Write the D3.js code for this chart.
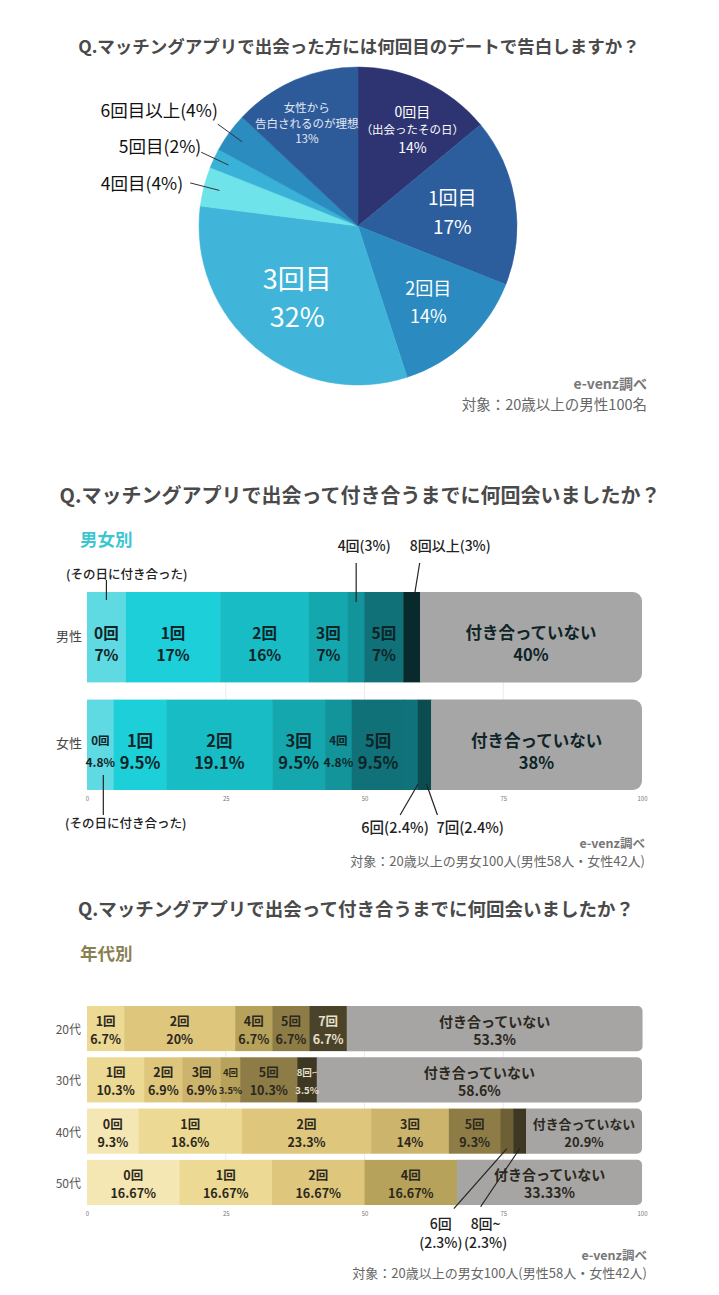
<!DOCTYPE html>
<html>
<head>
<meta charset="utf-8">
<script src="https://cdn.jsdelivr.net/npm/d3@7"></script>
<style>
  body { margin: 0; background: #fff; }
  text { font-family: "Noto Sans CJK JP", "Noto Sans", sans-serif; }
</style>
</head>
<body>
<svg id="chart" width="719" height="1295"></svg>
<script>
// ---- data: pie (男性の告白タイミング) ----
const pieLabels = ["0回目\n（出会ったその日）", "1回目", "2回目", "3回目", "4回目", "5回目", "6回目以上", "女性から\n告白されるのが理想"];
const pieValues = [14, 17, 14, 32, 4, 2, 4, 13];
const pieColors = ["#2e3471", "#2c5d9d", "#2b8bc0", "#41b5d9", "#6fe3ea", "#3ab2d7", "#2b8cbf", "#2d5b9a"];

// ---- data: 男女別 ----
const genderRows = ["男性", "女性"];
const maleKeys = ["0回", "1回", "2回", "3回", "4回", "5回", "8回以上", "付き合っていない"];
const maleValues = [7, 17, 16, 7, 3, 7, 3, 40];
const femaleKeys = ["0回", "1回", "2回", "3回", "4回", "5回", "6回", "7回", "付き合っていない"];
const femaleValues = [4.8, 9.5, 19.1, 9.5, 4.8, 9.5, 2.4, 2.4, 38];
const tealKeys = ["0回", "1回", "2回", "3回", "4回", "5回", "6回", "7回", "8回以上", "付き合っていない"];
const tealColors = ["#5fdae2", "#1dcfd9", "#18bcc5", "#15a7ae", "#13939a", "#117178", "#10727a", "#0b4c50", "#082a2c", "#a6a6a6"];

// ---- data: 年代別 ----
const ageRows = ["20代", "30代", "40代", "50代"];
const age20Keys = ["1回", "2回", "4回", "5回", "7回", "付き合っていない"];
const age20Values = [6.7, 20, 6.7, 6.7, 6.7, 53.3];
const age30Keys = ["1回", "2回", "3回", "4回", "5回", "8回~", "付き合っていない"];
const age30Values = [10.3, 6.9, 6.9, 3.5, 10.3, 3.5, 58.6];
const age40Keys = ["0回", "1回", "2回", "3回", "5回", "6回", "8回~", "付き合っていない"];
const age40Values = [9.3, 18.6, 23.3, 14, 9.3, 2.3, 2.3, 20.9];
const age50Keys = ["0回", "1回", "2回", "4回", "付き合っていない"];
const age50Values = [16.67, 16.67, 16.67, 16.67, 33.33];
const goldKeys = ["0回", "1回", "2回", "3回", "4回", "5回", "6回", "7回", "8回~", "付き合っていない"];
const goldColors = ["#f5e7b4", "#ecd993", "#dec67d", "#cdb46d", "#b7a25b", "#8e7c47", "#6d5f36", "#4b4329", "#3e3822", "#a7a4a4"];

const xTicks = [0, 25, 50, 75, 100];

const svg = d3.select("#chart");
const TITLE = "#4a4a4a";

function stackRow(keys, values) {
  let acc = 0;
  return keys.map((k, i) => {
    const d = { key: k, value: values[i], x0: acc, x1: acc + values[i] };
    acc += values[i];
    return d;
  });
}

// rect with rounded right end only
function rightRounded(x0, x1, y0, y1, r) {
  const p = d3.path();
  p.moveTo(x0, y0);
  p.lineTo(x1 - r, y0);
  p.arcTo(x1, y0, x1, y0 + r, r);
  p.lineTo(x1, y1 - r);
  p.arcTo(x1, y1, x1 - r, y1, r);
  p.lineTo(x0, y1);
  p.closePath();
  return p.toString();
}

function title(txt, x, y, size) {
  svg.append("text").attr("x", x).attr("y", y).attr("text-anchor", "middle")
    .attr("dominant-baseline", "central").attr("font-size", size)
    .attr("font-weight", 700).attr("fill", TITLE).text(txt);
}

function source(lines, x, y, size) {
  svg.append("text").attr("x", x).attr("y", y).attr("text-anchor", "end")
    .attr("dominant-baseline", "central").attr("font-size", size)
    .attr("font-weight", 700).attr("fill", "#777").text(lines[0]);
  svg.append("text").attr("x", x).attr("y", y + size * 1.45).attr("text-anchor", "end")
    .attr("dominant-baseline", "central").attr("font-size", size + 0.5)
    .attr("fill", "#666").text(lines[1]);
}

// =================== 1. pie ===================
title("Q.マッチングアプリで出会った方には何回目のデートで告白しますか？", 359, 45, 17.5);

const cx = 358, cy = 226, R = 159;
const pieG = svg.append("g").attr("transform", `translate(${cx},${cy})`);
const arcs = d3.pie().sort(null).value(d => d)(pieValues);
const arc = d3.arc().innerRadius(0).outerRadius(R);

pieG.selectAll("path.slice").data(arcs).join("path")
  .attr("class", "slice")
  .attr("d", arc)
  .attr("fill", (d, i) => pieColors[i])
  .attr("stroke", (d, i) => pieColors[i])
  .attr("stroke-width", 0.5);

const pieLabelSize = [14, 19, 18, 27, 0, 0, 0, 11.5];
const pieLineGap = [18, 29, 28, 38, 0, 0, 0, 15.5];
const pieNudge = [[7, 4], [0, 0], [-6, -6], [0, -3], [0, 0], [0, 0], [0, 0], [-7, -1]];
arcs.forEach((a, i) => {
  if (pieValues[i] < 10) return;
  const k = pieValues[i] >= 15 ? 0.6 : 0.7;
  let [lx, ly] = d3.arc().innerRadius(R * k).outerRadius(R * k).centroid(a);
  lx += pieNudge[i][0]; ly += pieNudge[i][1];
  const lines = pieLabels[i].split("\n").concat([pieValues[i] + "%"]);
  const gap = pieLineGap[i];
  const t = pieG.append("text").attr("text-anchor", "middle").attr("fill", i === 7 ? "#e4e8f2" : "#fff");
  lines.forEach((ln, j) => {
    const small = i === 0 && j === 1;
    t.append("tspan").attr("x", lx)
      .attr("y", ly + (j - (lines.length - 1) / 2) * gap)
      .attr("dominant-baseline", "central")
      .attr("font-size", small ? 11.5 : pieLabelSize[i])
      .text(ln);
  });
});

// small slices: outside labels with leader lines
const outsideDy = { 4: 0, 5: -7, 6: -15 };
const outsideDx = { 4: -7, 5: 0, 6: 0 };
arcs.forEach((a, i) => {
  if (pieValues[i] >= 10) return;
  const [ix, iy] = d3.arc().innerRadius(R * 0.9).outerRadius(R * 0.9).centroid(a);
  const [ox, oy] = d3.arc().innerRadius(R * 1.09).outerRadius(R * 1.09).centroid(a);
  pieG.append("line").attr("x1", ix).attr("y1", iy).attr("x2", ox).attr("y2", oy)
    .attr("stroke", "#333").attr("stroke-width", 1);
  pieG.append("text").attr("x", ox + outsideDx[i]).attr("y", oy + outsideDy[i])
    .attr("text-anchor", "end").attr("dominant-baseline", "central")
    .attr("font-size", 17.5).attr("fill", "#111")
    .text(`${pieLabels[i]}(${pieValues[i]}%)`);
});

source(["e-venz調べ", "対象：20歳以上の男性100名"], 647, 383, 14);

// =================== shared bar helpers ===================
const x = d3.scaleLinear().domain([0, 100]).range([87, 642]);

function drawAxis(yPos, y0, y1) {
  svg.append("g").selectAll("line").data(xTicks.slice(1, -1)).join("line")
    .attr("x1", d => x(d)).attr("x2", d => x(d))
    .attr("y1", y0).attr("y2", y1)
    .attr("stroke", "#ebebeb").attr("stroke-width", 1);
  const ax = svg.append("g").attr("transform", `translate(0,${yPos})`)
    .call(d3.axisBottom(x).tickValues(xTicks).tickSize(0).tickPadding(0));
  ax.select(".domain").remove();
  ax.selectAll("text").attr("font-size", 6).attr("fill", "#777")
    .attr("font-family", "\"Noto Sans CJK JP\", sans-serif");
}

function drawRow(segs, y0, h, colorOf, radius, labelFn) {
  const g = svg.append("g");
  segs.forEach((s, i) => {
    const last = i === segs.length - 1;
    if (last) {
      g.append("path").attr("d", rightRounded(x(s.x0), x(s.x1), y0, y0 + h, radius))
        .attr("fill", colorOf(s.key));
    } else {
      g.append("rect").attr("x", x(s.x0)).attr("y", y0)
        .attr("width", x(s.x1) - x(s.x0) + 0.5).attr("height", h)
        .attr("fill", colorOf(s.key));
    }
  });
  segs.forEach(s => labelFn(g, s, y0, h));
}

function twoLine(g, xc, yc, lines, sizes, gaps, color, weight) {
  const t = g.append("text").attr("text-anchor", "middle").attr("fill", color).attr("font-weight", weight);
  lines.forEach((ln, j) => {
    t.append("tspan").attr("x", xc).attr("y", yc + gaps[j])
      .attr("dominant-baseline", "central").attr("font-size", sizes[j]).text(ln);
  });
}

// =================== 2. 男女別 ===================
title("Q.マッチングアプリで出会って付き合うまでに何回会いましたか？", 360, 494, 20);
svg.append("text").attr("x", 80).attr("y", 538).attr("dominant-baseline", "central")
  .attr("font-size", 17.5).attr("font-weight", 700).attr("fill", "#3cc7cf").text("男女別");

const yG = d3.scaleBand().domain(genderRows).range([592, 790]).paddingInner(0.16);
drawAxis(797, 592, 790);
const tealOf = d3.scaleOrdinal().domain(tealKeys).range(tealColors);
const genderData = { "男性": stackRow(maleKeys, maleValues), "女性": stackRow(femaleKeys, femaleValues) };

genderRows.forEach(row => {
  const y0 = yG(row), h = yG.bandwidth();
  const big = row === "女性" ? 16.5 : 15.5;
  drawRow(genderData[row], y0, h, tealOf, 9, (g, s, top, hh) => {
    const w = x(s.x1) - x(s.x0);
    if (w < 20) return;
    const fs = s.key === "付き合っていない" ? 16.5 : (w < 30 ? 11.5 : big);
    const fs2 = w < 30 ? 12 : fs;
    twoLine(g, (x(s.x0) + x(s.x1)) / 2, top + hh / 2, [s.key, s.value + "%"],
      [fs, fs2], [-5, 17], "#0e2427", 700);
  });
  svg.append("text").attr("x", 82).attr("y", y0 + h / 2 - 2).attr("text-anchor", "end")
    .attr("dominant-baseline", "central").attr("font-size", 13).attr("fill", "#444").text(row);
});

// callouts for 男女別
function note(txt, tx, ty, anchor, size, line) {
  svg.append("line").attr("x1", line[0]).attr("y1", line[1]).attr("x2", line[2]).attr("y2", line[3])
    .attr("stroke", "#222").attr("stroke-width", 1.2);
  const t = svg.append("text").attr("text-anchor", anchor).attr("fill", "#222")
    .attr("font-weight", 500).attr("font-size", size);
  txt.split("\n").forEach((ln, j) => {
    t.append("tspan").attr("x", tx).attr("y", ty + j * 19).attr("dominant-baseline", "central").text(ln);
  });
}
function seg(row, key) { return genderData[row].find(s => s.key === key); }
function mid(s) { return (x(s.x0) + x(s.x1)) / 2; }
{
  const mTop = yG("男性"), fBot = yG("女性") + yG.bandwidth();
  const m0 = seg("男性", "0回"), m4 = seg("男性", "4回"), m8 = seg("男性", "8回以上");
  const f0 = seg("女性", "0回"), f6 = seg("女性", "6回"), f7 = seg("女性", "7回");
  note("(その日に付き合った)", x(0) - 21, mTop - 19, "start", 12.5, [mid(m0), mTop - 12, mid(m0), mTop + 8]);
  note(`${m4.key}(${m4.value}%)`, mid(m4) + 8, mTop - 47, "middle", 14, [mid(m4), mTop - 29, mid(m4), mTop + 10]);
  note(`${m8.key}(${m8.value}%)`, mid(m8) - 2, mTop - 47, "start", 14, [mid(m8) + 8, mTop - 29, mid(m8) + 2, mTop + 8]);
  note("(その日に付き合った)", x(0) - 22, fBot + 32, "start", 12.5, [mid(f0) + 3, fBot - 15, mid(f0) + 3, fBot + 25]);
  note(`${f6.key}(${f6.value}%)`, mid(f6) - 16, fBot + 36, "middle", 14.5, [mid(f6) + 7, fBot - 6, mid(f6) - 11, fBot + 25]);
  note(`${f7.key}(${f7.value}%)`, mid(f7) + 12, fBot + 36, "start", 14.5, [mid(f7) + 2, fBot - 6, mid(f7) + 13, fBot + 25]);
}

source(["e-venz調べ", "対象：20歳以上の男女100人(男性58人・女性42人)"], 645, 842, 12.5);

// =================== 3. 年代別 ===================
title("Q.マッチングアプリで出会って付き合うまでに何回会いましたか？", 356, 908, 18.5);
svg.append("text").attr("x", 80).attr("y", 952).attr("dominant-baseline", "central")
  .attr("font-size", 17.5).attr("font-weight", 700).attr("fill", "#8a7f52").text("年代別");

const yA = d3.scaleBand().domain(ageRows).range([1006, 1205]).paddingInner(0.12);
drawAxis(1212, 1006, 1205);
const goldOf = d3.scaleOrdinal().domain(goldKeys).range(goldColors);
const ageData = {
  "20代": stackRow(age20Keys, age20Values),
  "30代": stackRow(age30Keys, age30Values),
  "40代": stackRow(age40Keys, age40Values),
  "50代": stackRow(age50Keys, age50Values)
};

ageRows.forEach(row => {
  const y0 = yA(row), h = yA.bandwidth();
  drawRow(ageData[row], y0, h, goldOf, 5, (g, s, top, hh) => {
    const w = x(s.x1) - x(s.x0);
    if (w < 15) return;
    const dark = ["7回", "8回~"].includes(s.key);
    let fs = w < 25 ? 9.5 : 12.5;
    if (s.key === "付き合っていない") fs = Math.min(14, w / 9);
    twoLine(g, (x(s.x0) + x(s.x1)) / 2, top + hh / 2, [s.key, s.value + "%"],
      [fs, fs], [-8, 10], dark ? "#e6e0cc" : "#2b281d", 700);
  });
  svg.append("text").attr("x", 81).attr("y", y0 + h / 2).attr("text-anchor", "end")
    .attr("dominant-baseline", "central").attr("font-size", 12).attr("fill", "#555").text(row);
});

{
  const bot = yA("40代") + yA.bandwidth();
  const a6 = ageData["40代"].find(s => s.key === "6回");
  const a8 = ageData["40代"].find(s => s.key === "8回~");
  const m6 = mid(a6), m8 = mid(a8);
  note(`${a6.key}\n(${a6.value}%)`, m6 - 66, bot + 69, "middle", 14, [m6, bot - 5, m6 - 53, bot + 55]);
  note(`${a8.key}\n(${a8.value}%)`, m8 - 34, bot + 69, "middle", 14, [m8, bot - 5, m8 - 39, bot + 53]);
}

source(["e-venz調べ", "対象：20歳以上の男女100人(男性58人・女性42人)"], 647, 1254, 12.5);
</script>
</body>
</html>
